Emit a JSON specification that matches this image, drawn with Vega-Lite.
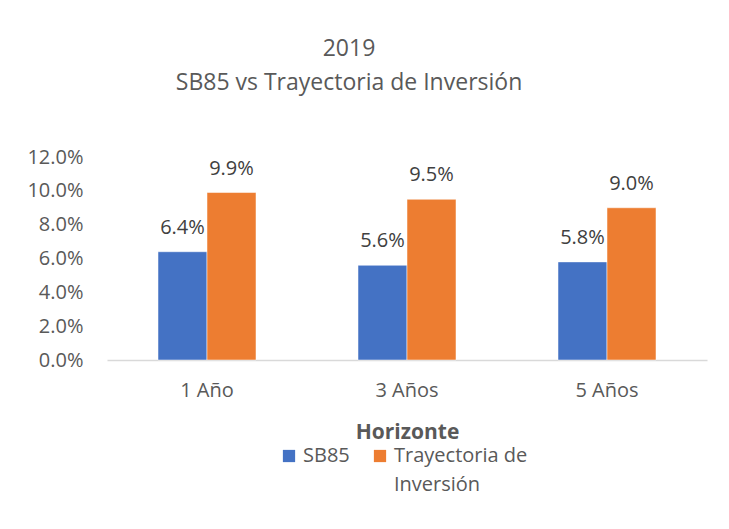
{
  "$schema": "https://vega.github.io/schema/vega-lite/v6.json",
  "width": 600,
  "height": 203,
  "autosize": "none",
  "padding": {"left": 107, "top": 157, "right": 22, "bottom": 169},
  "background": "white",
  "config": {"view": {"stroke": null}, "style": {"guide-label": {"lineHeight": 29}}},
  "title": {
    "text": ["2019", "SB85 vs Trayectoria de Inversión"],
    "font": "Open Sans",
    "fontSize": 23,
    "fontWeight": "normal",
    "color": "#595959",
    "lineHeight": 34,
    "offset": 52,
    "dx": -58,
    "anchor": "middle"
  },
  "data": {
    "values": [
      {"h": "1 Año", "s": "SB85", "v": 0.064},
      {"h": "1 Año", "s": "Trayectoria de Inversión", "v": 0.099},
      {"h": "3 Años", "s": "SB85", "v": 0.056},
      {"h": "3 Años", "s": "Trayectoria de Inversión", "v": 0.095},
      {"h": "5 Años", "s": "SB85", "v": 0.058},
      {"h": "5 Años", "s": "Trayectoria de Inversión", "v": 0.090}
    ]
  },
  "encoding": {
    "x": {
      "field": "h", "type": "nominal", "title": "Horizonte",
      "scale": {"paddingInner": 0.51, "paddingOuter": 0.255},
      "axis": {
        "labelAngle": 0, "ticks": false, "domainColor": "#d9d9d9", "domainWidth": 1.5,
        "labelFont": "Open Sans", "labelFontSize": 20, "labelColor": "#595959", "labelPadding": 20,
        "titleFont": "Open Sans", "titleFontSize": 21, "titleFontWeight": "bold", "titleColor": "#595959", "titlePadding": 21
      }
    },
    "xOffset": {"field": "s", "type": "nominal", "sort": ["SB85", "Trayectoria de Inversión"]},
    "y": {
      "field": "v", "type": "quantitative", "title": null,
      "scale": {"domain": [0, 0.12], "nice": false},
      "axis": {
        "format": ".1%", "values": [0, 0.02, 0.04, 0.06, 0.08, 0.1, 0.12],
        "grid": false, "domain": false, "ticks": false,
        "labelFont": "Open Sans", "labelFontSize": 20, "labelColor": "#595959", "labelPadding": 24
      }
    }
  },
  "layer": [
    {
      "mark": {"type": "bar", "stroke": "white", "strokeWidth": 0.5},
      "encoding": {
        "color": {
          "field": "s", "type": "nominal", "sort": ["SB85", "Trayectoria de Inversión"],
          "scale": {"range": ["#4472C4", "#ED7D31"]},
          "legend": {
            "title": null, "orient": "none", "direction": "horizontal",
            "legendX": 172, "legendY": 289,
            "symbolType": "square", "symbolSize": 150, "symbolStrokeWidth": 0,
            "labelFont": "Open Sans", "labelFontSize": 20, "labelColor": "#595959",
            "labelLimit": 220, "columnPadding": 20, "labelOffset": 4,
            "labelBaseline": "middle",
            "labelExpr": "datum.label == 'Trayectoria de Inversión' ? ['Trayectoria de', '     Inversión'] : [datum.label, ' ']"
          }
        }
      }
    },
    {
      "mark": {"type": "text", "dy": -24, "font": "Open Sans", "fontSize": 20, "color": "#404040"},
      "encoding": {
        "text": {"field": "v", "type": "quantitative", "format": ".1%"}
      }
    }
  ]
}
